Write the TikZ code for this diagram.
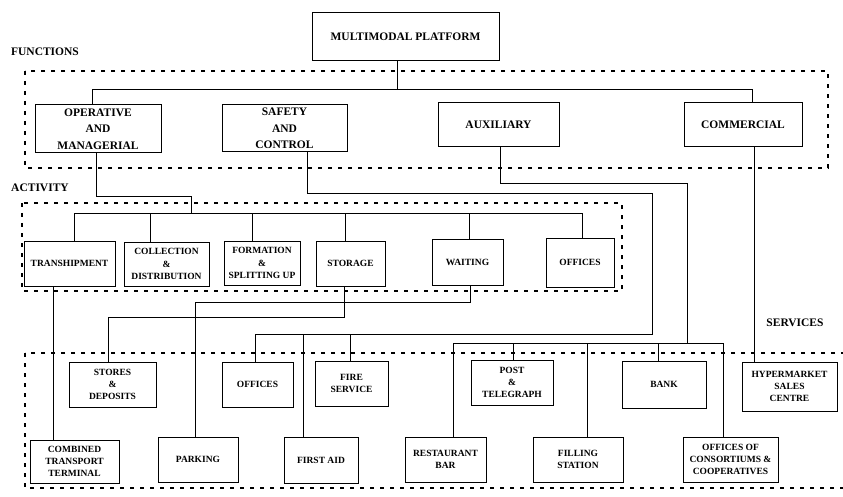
\documentclass[tikz,border=0pt]{standalone}
\usepackage{fontspec}
\setmainfont{Liberation Serif}

\begin{document}
\begin{tikzpicture}[x=1pt, y=-1pt, line width=0.8pt]
		 \tikzstyle{func} = [draw, line width=1pt, align=center, inner sep=0pt, font=\fontsize{11.5}{16.5}\selectfont\bfseries];
		 \tikzstyle{unit} = [draw, line width=1pt, align=center, inner sep=0pt, font=\fontsize{9.5}{12.2}\selectfont\bfseries];
		 \tikzstyle{zone} = [line width=1.5pt, dash pattern=on 4pt off 6pt];
		 \tikzstyle{title} = [font=\fontsize{11.5}{14}\selectfont\bfseries];

		 \useasboundingbox (0,0) rectangle (843,497);

		 \draw [zone] (25,71) rectangle (828,168);
		 \draw [zone] (22,203) rectangle (622,291);
		 \draw [zone] (25,353) rectangle (880,488);

		 \node [title] (functions) at (45,52)  {FUNCTIONS};
		 \node [title] (activity)  at (40,188) {ACTIVITY};
		 \node [title] (services)  at (795,323) {SERVICES};

		 \node [func, minimum width=187pt, minimum height=48pt] (plat) at (405.5,37)  {MULTIMODAL PLATFORM};
		 \node [func, minimum width=126pt, minimum height=48pt] (oper) at (98,129)    {OPERATIVE\\AND\\MANAGERIAL};
		 \node [func, minimum width=125pt, minimum height=47pt] (safe) at (284.5,128.5) {SAFETY\\AND\\CONTROL};
		 \node [func, minimum width=121pt, minimum height=44pt] (aux)  at (498.5,125) {AUXILIARY};
		 \node [func, minimum width=118pt, minimum height=44pt] (comm) at (743,125)   {COMMERCIAL};

		 \node [unit, minimum width=91pt, minimum height=45pt] (tranship) at (69.5,263.5) {TRANSHIPMENT};
		 \node [unit, minimum width=85pt, minimum height=44pt] (collect)  at (166.5,264)  {COLLECTION\\\&\\DISTRIBUTION};
		 \node [unit, minimum width=76pt, minimum height=44pt] (form)     at (262,263)    {FORMATION\\\&\\SPLITTING UP};
		 \node [unit, minimum width=69pt, minimum height=45pt] (stor)     at (350.5,263.5) {STORAGE};
		 \node [unit, minimum width=71pt, minimum height=46pt] (wait)     at (467.5,262)  {WAITING};
		 \node [unit, minimum width=68pt, minimum height=49pt] (offa)     at (580,262.5)  {OFFICES};

		 \node [unit, minimum width=87pt, minimum height=45pt] (stores) at (112.5,384.5) {STORES\\\&\\DEPOSITS};
		 \node [unit, minimum width=71pt, minimum height=45pt] (offs)   at (257.5,384.5) {OFFICES};
		 \node [unit, minimum width=73pt, minimum height=45pt] (fire)   at (351.5,383.5) {FIRE\\SERVICE};
		 \node [unit, minimum width=82pt, minimum height=45pt] (post)   at (512,382.5)   {POST\\\&\\TELEGRAPH};
		 \node [unit, minimum width=84pt, minimum height=47pt] (bank)   at (664,384.5)   {BANK};
		 \node [unit, minimum width=95pt, minimum height=49pt] (hyper)  at (789.5,386.5) {HYPERMARKET\\SALES\\CENTRE};
		 \node [unit, minimum width=89pt, minimum height=43pt] (comb)   at (74.5,461.5)  {COMBINED\\TRANSPORT\\TERMINAL};
		 \node [unit, minimum width=80pt, minimum height=45pt] (park)   at (198,459.5)   {PARKING};
		 \node [unit, minimum width=74pt, minimum height=46pt] (first)  at (321,460)     {FIRST AID};
		 \node [unit, minimum width=81pt, minimum height=45pt] (rest)   at (445.5,459.5) {RESTAURANT\\BAR};
		 \node [unit, minimum width=90pt, minimum height=45pt] (fill)   at (578,459.5)   {FILLING\\STATION};
		 \node [unit, minimum width=95pt, minimum height=45pt] (cons)   at (730.5,459.5) {OFFICES OF\\CONSORTIUMS \&\\COOPERATIVES};

		 \coordinate (actbus) at (191,214);
		 \coordinate (safbus) at (652,334);
		 \coordinate (auxbus) at (687,344);

		 \draw ([xshift=-8.5pt]plat.south) -- ++(0,29);
		 \draw ([xshift=-6pt]oper.north) -- ++(0,-15) -| ([xshift=9pt]comm.north);

		 \draw ([xshift=-2pt]oper.south) -- ++(0,43) -| (actbus);
		 \draw ([xshift=4.5pt]tranship.north) -- ++(0,-27) -| ([xshift=2pt]offa.north);
		 \foreach \n/\s in {collect/-16.5, form/-10, stor/-5.5, wait/1.5}
		 	\draw ([xshift=\s pt]\n.north) -- ([xshift=\s pt]\n.north |- actbus);

		 \draw ([xshift=22.5pt]safe.south) -- ++(0,41) -| (safbus) -| ([xshift=-2.5pt]offs.north);
		 \foreach \n/\s in {first/-18, fire/-1.5}
		 	\draw ([xshift=\s pt]\n.north) -- ([xshift=\s pt]\n.north |- safbus);

		 \draw ([xshift=1.5pt]aux.south) -- ++(0,36) -| (auxbus);
		 \draw ([xshift=7.5pt]rest.north) -- ++(0,-93) -| ([xshift=-7.5pt]cons.north);
		 \foreach \n/\s in {post/1, fill/9, bank/-6}
		 	\draw ([xshift=\s pt]\n.north) -- ([xshift=\s pt]\n.north |- auxbus);

		 \draw ([xshift=11pt]comm.south) -- ([xshift=11pt]comm.south |- hyper.north);
		 \draw ([xshift=-16.5pt]tranship.south) -- ([xshift=-16.5pt]tranship.south |- comb.north);
		 \draw ([xshift=-6.5pt]stor.south) -- ++(0,31) -| ([xshift=-4.5pt]stores.north);
		 \draw ([xshift=2.5pt]wait.south) -- ++(0,17) -| ([xshift=-3pt]park.north);
\end{tikzpicture}
\end{document}
